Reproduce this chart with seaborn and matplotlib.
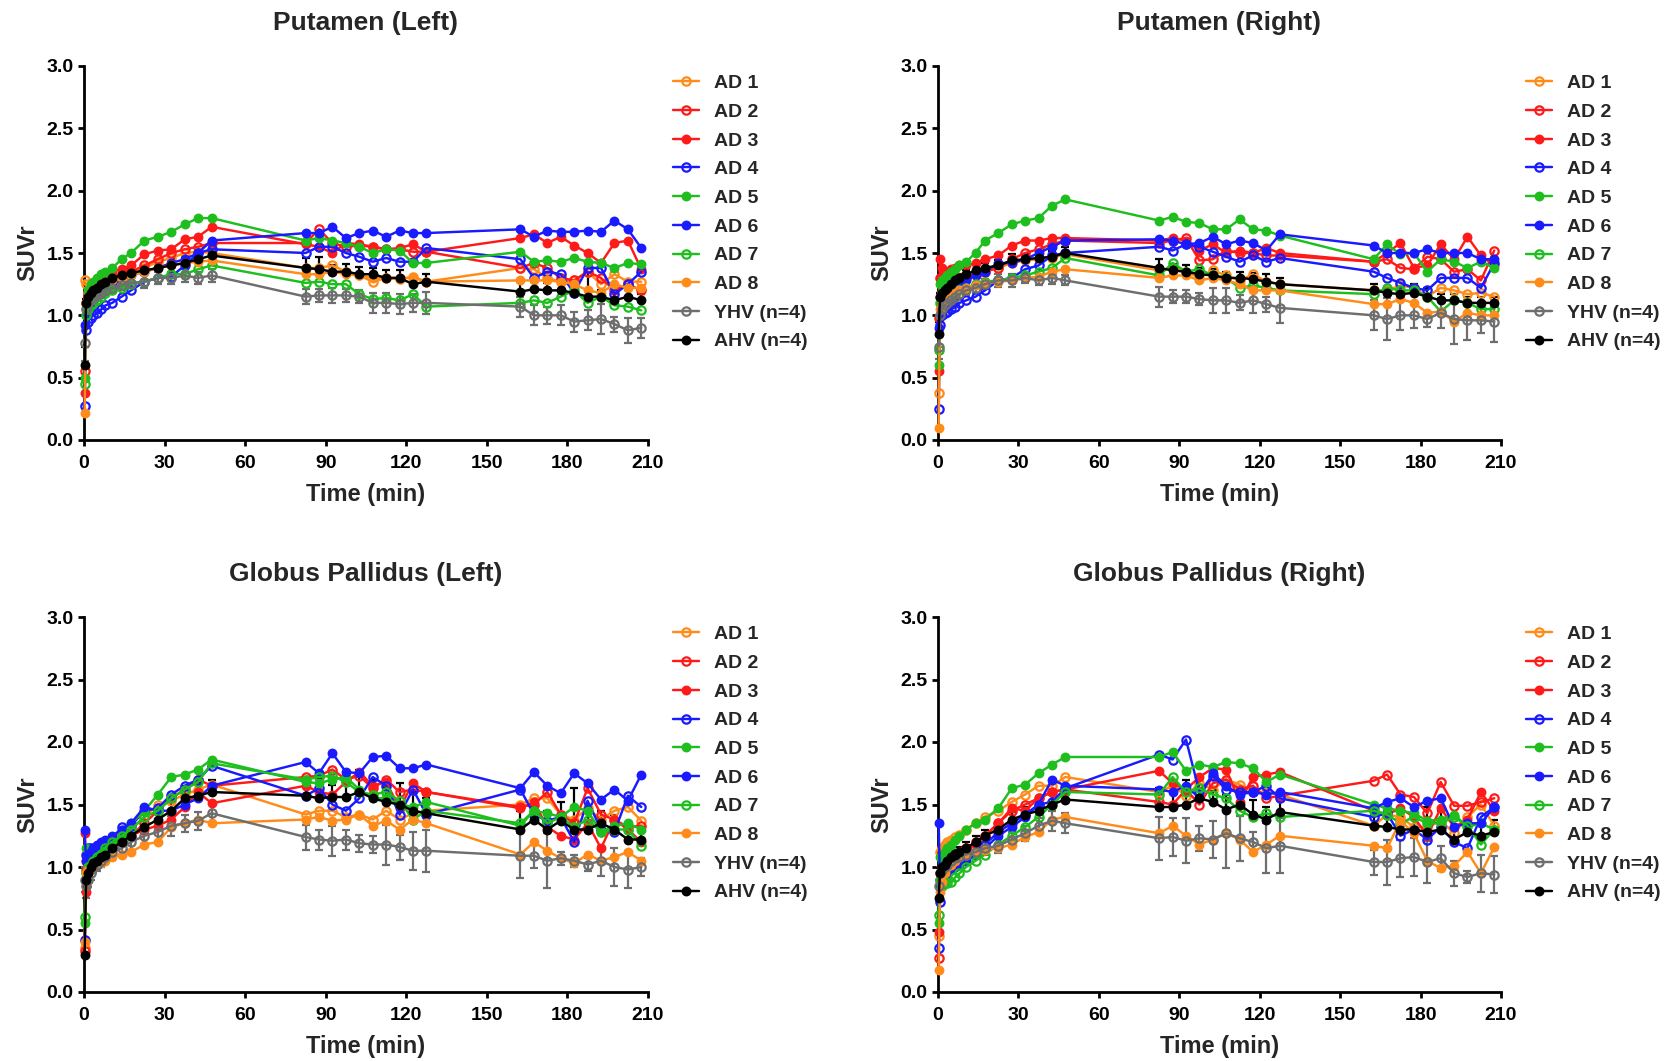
import numpy as np
import matplotlib
matplotlib.use("Agg")
import matplotlib.pyplot as plt
import seaborn as sns

# ---------------- data ----------------
TIME = [0.25, 0.75, 1.5, 2.5, 3.5, 5, 6.5, 8, 10.5, 14, 17.5,
        22.5, 27.5, 32.5, 37.5, 42.5, 47.5,
        82.5, 87.5, 92.5, 97.5, 102.5, 107.5, 112.5, 117.5, 122.5, 127.5,
        162.5, 167.5, 172.5, 177.5, 182.5, 187.5, 192.5, 197.5, 202.5, 207.5]

SERIES = ["AD 1", "AD 2", "AD 3", "AD 4", "AD 5", "AD 6", "AD 7", "AD 8", "YHV (n=4)", "AHV (n=4)"]
TITLES = ["Putamen (Left)", "Putamen (Right)", "Globus Pallidus (Left)", "Globus Pallidus (Right)"]
XTICKS = [0, 30, 60, 90, 120, 150, 180, 210]
YTICKS = [0.0, 0.5, 1.0, 1.5, 2.0, 2.5, 3.0]

# Putamen (Left)
P1_AD1 = [1.28,1.25,1.18,1.15,1.17,1.2,1.22,1.25,1.27,1.3,1.35, 1.38,1.43,1.46,1.5,1.51,1.5, 1.38,1.38,1.4,1.35,1.32,1.27,1.3,1.29,1.31,1.27, 1.38,1.37,1.3,1.27,1.28,1.35,1.25,1.33,1.27,1.27]
P1_AD2 = [0.55,1.1,1.15,1.18,1.2,1.22,1.25,1.27,1.3,1.33,1.35, 1.4,1.45,1.5,1.53,1.55,1.58, 1.58,1.69,1.58,1.55,1.56,1.55,1.53,1.53,1.51,1.51, 1.38,1.42,1.38,1.3,1.28,1.35,1.3,1.2,1.25,1.2]
P1_AD3 = [0.38,1.05,1.12,1.2,1.25,1.28,1.3,1.32,1.35,1.37,1.4, 1.49,1.52,1.53,1.61,1.63,1.71, 1.57,1.55,1.5,1.58,1.57,1.55,1.53,1.54,1.57,1.51, 1.62,1.65,1.58,1.63,1.56,1.5,1.42,1.58,1.6,1.37]
P1_AD4 = [0.27,0.88,0.95,0.98,1.0,1.02,1.05,1.08,1.1,1.15,1.2, 1.27,1.3,1.31,1.4,1.5,1.53, 1.5,1.55,1.55,1.5,1.47,1.43,1.46,1.43,1.43,1.54, 1.45,1.3,1.35,1.33,1.18,1.38,1.38,1.17,1.25,1.35]
P1_AD5 = [0.5,1.1,1.2,1.25,1.27,1.3,1.33,1.35,1.38,1.45,1.5, 1.6,1.63,1.67,1.73,1.78,1.78, 1.6,1.62,1.6,1.58,1.55,1.5,1.53,1.52,1.42,1.42, 1.51,1.43,1.44,1.43,1.46,1.43,1.42,1.38,1.42,1.41]
P1_AD6 = [0.92,1.0,1.05,1.08,1.12,1.15,1.18,1.22,1.25,1.28,1.32, 1.35,1.38,1.42,1.45,1.5,1.6, 1.66,1.66,1.71,1.62,1.66,1.68,1.63,1.68,1.66,1.66, 1.69,1.63,1.68,1.67,1.67,1.68,1.67,1.76,1.69,1.54]
P1_AD7 = [0.45,1.0,1.05,1.08,1.1,1.12,1.15,1.18,1.2,1.22,1.25, 1.27,1.3,1.33,1.33,1.37,1.4, 1.26,1.27,1.25,1.25,1.17,1.13,1.14,1.12,1.17,1.07, 1.1,1.12,1.1,1.15,1.2,1.1,1.15,1.08,1.07,1.04]
P1_AD8 = [0.22,1.1,1.15,1.18,1.2,1.22,1.25,1.27,1.28,1.3,1.32, 1.35,1.38,1.4,1.42,1.43,1.44, 1.33,1.33,1.35,1.33,1.32,1.3,1.3,1.3,1.3,1.27, 1.28,1.28,1.28,1.27,1.25,1.2,1.18,1.25,1.22,1.22]
P1_YHV = [0.78,1.05,1.1,1.12,1.14,1.16,1.18,1.2,1.22,1.24,1.26, 1.27,1.3,1.3,1.32,1.3,1.32, 1.15,1.16,1.16,1.16,1.15,1.1,1.1,1.09,1.1,1.1, 1.07,1.0,1.0,1.0,0.95,0.96,0.97,0.93,0.88,0.9]
P1_AHV = [0.6,1.1,1.15,1.18,1.2,1.22,1.25,1.27,1.3,1.32,1.34, 1.36,1.38,1.4,1.42,1.45,1.48, 1.38,1.37,1.35,1.35,1.33,1.33,1.3,1.3,1.25,1.27, 1.19,1.21,1.2,1.2,1.18,1.15,1.15,1.12,1.15,1.12]
P1_YHV_SD = [0.15,0.05,0.04,0.04,0.04,0.04,0.04,0.04,0.04,0.04,0.04, 0.05,0.05,0.05,0.05,0.05,0.05, 0.06,0.05,0.06,0.05,0.05,0.08,0.08,0.08,0.07,0.09, 0.08,0.08,0.07,0.08,0.08,0.08,0.12,0.06,0.1,0.08]
P1_AHV_SD = [0.15,0.03,0.03,0.03,0.03,0.03,0.03,0.03,0.03,0.03,0.03, 0.04,0.04,0.05,0.05,0.05,0.05, 0.08,0.1,0.05,0.06,0.06,0.05,0.06,0.06,0.05,0.06, 0.08,0.06,0.06,0.06,0.1,0.2,0.05,0.06,0.05,0.05]

# Putamen (Right)
P2_AD1 = [0.38,1.15,1.18,1.2,1.22,1.25,1.27,1.28,1.3,1.33,1.36, 1.38,1.42,1.44,1.45,1.46,1.49, 1.36,1.38,1.35,1.3,1.36,1.32,1.28,1.33,1.27,1.25, 1.2,1.2,1.24,1.22,1.15,1.22,1.2,1.17,1.18,1.15]
P2_AD2 = [0.98,1.3,1.3,1.28,1.27,1.27,1.28,1.3,1.3,1.32,1.35, 1.38,1.45,1.5,1.53,1.57,1.6, 1.58,1.6,1.62,1.44,1.45,1.52,1.5,1.5,1.48,1.48, 1.43,1.45,1.38,1.37,1.47,1.45,1.35,1.37,1.28,1.52]
P2_AD3 = [0.55,1.45,1.38,1.35,1.35,1.37,1.38,1.4,1.4,1.42,1.45, 1.48,1.56,1.6,1.6,1.62,1.62, 1.6,1.62,1.6,1.52,1.57,1.5,1.52,1.5,1.54,1.5, 1.43,1.5,1.58,1.38,1.4,1.57,1.45,1.63,1.48,1.4]
P2_AD4 = [0.25,0.92,1.0,1.02,1.03,1.05,1.07,1.1,1.12,1.15,1.2, 1.28,1.3,1.37,1.4,1.48,1.5, 1.55,1.52,1.57,1.55,1.51,1.47,1.43,1.48,1.43,1.46, 1.35,1.3,1.26,1.22,1.2,1.3,1.3,1.3,1.22,1.42]
P2_AD5 = [0.6,1.25,1.28,1.3,1.32,1.35,1.37,1.4,1.43,1.5,1.6, 1.66,1.73,1.76,1.78,1.88,1.93, 1.76,1.79,1.75,1.74,1.69,1.69,1.77,1.69,1.68,1.64, 1.45,1.57,1.49,1.5,1.35,1.45,1.43,1.38,1.43,1.38]
P2_AD6 = [0.9,1.15,1.15,1.15,1.17,1.2,1.22,1.25,1.28,1.32,1.35, 1.42,1.42,1.45,1.5,1.55,1.6, 1.61,1.6,1.57,1.58,1.63,1.57,1.6,1.58,1.52,1.65, 1.56,1.5,1.5,1.5,1.53,1.5,1.5,1.5,1.45,1.45]
P2_AD7 = [0.72,1.1,1.12,1.14,1.15,1.17,1.18,1.2,1.22,1.25,1.27, 1.28,1.3,1.32,1.35,1.38,1.46, 1.32,1.42,1.35,1.37,1.32,1.3,1.22,1.24,1.22,1.2, 1.17,1.22,1.2,1.2,1.15,1.03,1.12,1.1,1.05,1.05]
P2_AD8 = [0.1,1.05,1.1,1.12,1.14,1.16,1.18,1.2,1.22,1.24,1.26, 1.27,1.28,1.3,1.31,1.35,1.37, 1.3,1.32,1.32,1.28,1.3,1.28,1.25,1.2,1.2,1.2, 1.09,1.09,1.13,1.1,1.02,1.03,0.95,1.02,1.0,1.0]
P2_YHV = [0.75,1.0,1.05,1.08,1.1,1.12,1.15,1.17,1.2,1.22,1.25, 1.28,1.28,1.3,1.28,1.3,1.28, 1.15,1.15,1.15,1.13,1.12,1.12,1.1,1.12,1.09,1.06, 1.0,0.97,1.0,1.0,0.97,1.02,0.97,0.96,0.96,0.95]
P2_AHV = [0.85,1.15,1.18,1.2,1.22,1.25,1.28,1.3,1.33,1.36,1.38, 1.4,1.44,1.45,1.46,1.47,1.5, 1.38,1.36,1.35,1.33,1.32,1.3,1.3,1.29,1.27,1.25, 1.2,1.18,1.17,1.18,1.15,1.12,1.12,1.1,1.1,1.1]
P2_YHV_SD = [0.1,0.04,0.04,0.04,0.04,0.04,0.04,0.04,0.04,0.04,0.04, 0.05,0.05,0.04,0.04,0.05,0.04, 0.08,0.05,0.05,0.05,0.1,0.1,0.06,0.1,0.06,0.12, 0.12,0.17,0.12,0.1,0.06,0.12,0.2,0.16,0.1,0.16]
P2_AHV_SD = [0.1,0.03,0.03,0.03,0.03,0.03,0.03,0.03,0.03,0.04,0.04, 0.04,0.05,0.04,0.04,0.05,0.05, 0.07,0.05,0.05,0.05,0.05,0.05,0.05,0.05,0.06,0.05, 0.05,0.05,0.05,0.07,0.07,0.05,0.05,0.05,0.05,0.05]

# Globus Pallidus (Left)
P3_AD1 = [0.35,1.05,1.08,1.1,1.12,1.15,1.18,1.2,1.22,1.25,1.3, 1.4,1.5,1.53,1.58,1.62,1.66, 1.42,1.45,1.45,1.4,1.42,1.38,1.45,1.38,1.43,1.45, 1.5,1.55,1.55,1.42,1.38,1.47,1.38,1.45,1.48,1.37]
P3_AD2 = [0.33,0.98,1.0,1.02,1.05,1.08,1.1,1.13,1.17,1.2,1.25, 1.35,1.45,1.55,1.62,1.7,1.65, 1.72,1.73,1.78,1.7,1.73,1.63,1.7,1.6,1.62,1.6, 1.48,1.5,1.6,1.42,1.35,1.63,1.42,1.38,1.32,1.33]
P3_AD3 = [1.27,0.8,0.95,1.0,1.02,1.05,1.08,1.12,1.15,1.2,1.25, 1.3,1.33,1.38,1.48,1.6,1.51, 1.65,1.6,1.58,1.68,1.76,1.65,1.68,1.47,1.67,1.6, 1.47,1.52,1.32,1.25,1.22,1.35,1.15,1.38,1.3,1.2]
P3_AD4 = [0.42,1.1,1.15,1.15,1.12,1.15,1.18,1.2,1.22,1.32,1.33, 1.45,1.47,1.58,1.65,1.7,1.81, 1.57,1.63,1.5,1.45,1.55,1.72,1.65,1.42,1.62,1.42, 1.62,1.42,1.37,1.4,1.2,1.53,1.3,1.28,1.57,1.48]
P3_AD5 = [0.55,1.15,1.0,1.02,1.05,1.08,1.12,1.15,1.2,1.25,1.35, 1.45,1.58,1.72,1.74,1.78,1.86, 1.68,1.67,1.7,1.72,1.62,1.55,1.55,1.5,1.48,1.52, 1.33,1.45,1.43,1.4,1.48,1.45,1.28,1.33,1.35,1.3]
P3_AD6 = [1.3,1.05,1.1,1.12,1.15,1.18,1.2,1.22,1.25,1.3,1.35, 1.48,1.45,1.45,1.5,1.55,1.65, 1.84,1.75,1.91,1.76,1.75,1.88,1.89,1.79,1.79,1.82, 1.63,1.76,1.65,1.59,1.75,1.67,1.54,1.62,1.53,1.74]
P3_AD7 = [0.6,0.95,1.0,1.02,1.05,1.08,1.1,1.15,1.2,1.25,1.3, 1.4,1.45,1.55,1.62,1.68,1.83, 1.7,1.72,1.73,1.68,1.6,1.58,1.6,1.53,1.38,1.45, 1.35,1.45,1.35,1.4,1.32,1.38,1.28,1.3,1.3,1.17]
P3_AD8 = [0.4,0.95,0.98,1.0,1.0,1.02,1.03,1.05,1.08,1.1,1.12, 1.18,1.2,1.32,1.35,1.38,1.35, 1.38,1.4,1.37,1.38,1.42,1.33,1.37,1.3,1.38,1.35, 1.1,1.2,1.13,1.07,1.03,1.1,1.05,1.08,1.12,1.05]
P3_YHV = [0.9,0.85,0.9,0.95,1.0,1.02,1.05,1.08,1.12,1.15,1.2, 1.25,1.28,1.33,1.35,1.37,1.43, 1.24,1.22,1.21,1.22,1.19,1.18,1.18,1.16,1.13,1.13, 1.09,1.09,1.05,1.07,1.05,1.02,1.05,1.0,0.98,1.0]
P3_AHV = [0.3,0.9,0.95,1.0,1.03,1.05,1.08,1.1,1.15,1.2,1.25, 1.32,1.38,1.45,1.55,1.57,1.6, 1.57,1.55,1.56,1.56,1.6,1.55,1.52,1.5,1.45,1.43, 1.3,1.38,1.3,1.37,1.3,1.3,1.35,1.3,1.22,1.22]
P3_YHV_SD = [0.1,0.1,0.06,0.05,0.05,0.05,0.05,0.05,0.06,0.06,0.06, 0.07,0.07,0.08,0.07,0.07,0.08, 0.1,0.08,0.12,0.08,0.07,0.07,0.16,0.1,0.15,0.17, 0.18,0.1,0.22,0.05,0.05,0.05,0.12,0.15,0.15,0.07]
P3_AHV_SD = [0.1,0.05,0.05,0.04,0.04,0.04,0.04,0.04,0.05,0.05,0.05, 0.05,0.06,0.07,0.1,0.1,0.1, 0.15,0.16,0.1,0.12,0.18,0.15,0.12,0.17,0.15,0.12, 0.15,0.1,0.15,0.15,0.33,0.18,0.1,0.12,0.1,0.1]

# Globus Pallidus (Right)
P4_AD1 = [0.45,1.12,1.15,1.18,1.2,1.22,1.24,1.26,1.3,1.35,1.4, 1.45,1.52,1.58,1.65,1.65,1.72, 1.6,1.65,1.57,1.67,1.62,1.7,1.66,1.6,1.6,1.58, 1.33,1.42,1.4,1.32,1.32,1.37,1.27,1.4,1.5,1.33]
P4_AD2 = [0.27,0.9,0.95,1.0,1.02,1.05,1.08,1.1,1.15,1.2,1.25, 1.35,1.45,1.5,1.55,1.6,1.62, 1.52,1.5,1.62,1.5,1.67,1.7,1.62,1.65,1.55,1.57, 1.69,1.74,1.58,1.56,1.43,1.68,1.49,1.49,1.52,1.55]
P4_AD3 = [0.48,0.95,1.0,1.0,1.03,1.05,1.08,1.12,1.15,1.18,1.25, 1.35,1.47,1.45,1.55,1.6,1.62, 1.77,1.67,1.62,1.72,1.79,1.78,1.52,1.72,1.74,1.76, 1.45,1.42,1.47,1.4,1.25,1.47,1.32,1.38,1.6,1.45]
P4_AD4 = [0.35,0.72,0.9,0.95,0.97,1.0,1.02,1.05,1.08,1.12,1.18, 1.28,1.35,1.42,1.5,1.52,1.63, 1.9,1.86,2.02,1.6,1.73,1.62,1.6,1.6,1.65,1.55, 1.4,1.43,1.25,1.3,1.22,1.32,1.2,1.15,1.4,1.48]
P4_AD5 = [0.55,1.08,1.1,1.12,1.15,1.18,1.22,1.25,1.3,1.35,1.38, 1.47,1.63,1.66,1.75,1.82,1.88, 1.88,1.92,1.77,1.82,1.8,1.84,1.83,1.79,1.68,1.74, 1.5,1.47,1.45,1.43,1.37,1.38,1.42,1.32,1.35,1.3]
P4_AD6 = [1.35,0.85,0.9,0.92,0.95,0.98,1.0,1.02,1.05,1.1,1.15, 1.25,1.32,1.4,1.5,1.7,1.65, 1.62,1.6,1.65,1.55,1.75,1.65,1.58,1.6,1.58,1.6, 1.47,1.52,1.55,1.48,1.53,1.55,1.32,1.35,1.35,1.48]
P4_AD7 = [0.62,0.9,0.85,0.87,0.87,0.88,0.92,0.95,1.0,1.05,1.1, 1.18,1.25,1.32,1.4,1.5,1.6, 1.58,1.72,1.6,1.63,1.58,1.55,1.45,1.4,1.43,1.4, 1.45,1.42,1.35,1.4,1.35,1.35,1.4,1.33,1.18,1.3]
P4_AD8 = [0.18,0.8,0.88,0.95,1.0,1.02,1.05,1.08,1.1,1.12,1.14, 1.15,1.18,1.24,1.28,1.38,1.4, 1.27,1.33,1.25,1.18,1.22,1.27,1.22,1.12,1.18,1.25, 1.17,1.15,1.37,1.27,1.05,0.99,1.01,1.12,0.95,1.16]
P4_YHV = [0.85,0.95,0.98,1.0,1.02,1.05,1.07,1.08,1.1,1.12,1.15, 1.17,1.22,1.27,1.33,1.37,1.35, 1.23,1.24,1.21,1.23,1.22,1.27,1.23,1.2,1.15,1.17, 1.04,1.04,1.07,1.08,1.04,1.07,0.95,0.92,0.95,0.94]
P4_AHV = [0.75,0.95,1.0,1.02,1.05,1.08,1.1,1.12,1.15,1.2,1.25, 1.3,1.38,1.42,1.45,1.5,1.54, 1.48,1.48,1.5,1.55,1.52,1.46,1.5,1.42,1.38,1.44, 1.33,1.32,1.3,1.3,1.28,1.3,1.22,1.28,1.25,1.28]
P4_YHV_SD = [0.1,0.05,0.05,0.05,0.05,0.05,0.05,0.05,0.05,0.05,0.05, 0.06,0.06,0.06,0.06,0.08,0.08, 0.17,0.15,0.18,0.1,0.15,0.28,0.18,0.08,0.2,0.22, 0.1,0.18,0.15,0.15,0.17,0.1,0.1,0.05,0.15,0.15]
P4_AHV_SD = [0.1,0.04,0.04,0.04,0.04,0.04,0.04,0.04,0.05,0.05,0.05, 0.05,0.06,0.06,0.08,0.1,0.1, 0.15,0.15,0.2,0.15,0.1,0.12,0.12,0.12,0.1,0.1, 0.1,0.08,0.1,0.1,0.2,0.15,0.1,0.1,0.1,0.1]

PANELS = [
    [P1_AD1, P1_AD2, P1_AD3, P1_AD4, P1_AD5, P1_AD6, P1_AD7, P1_AD8, P1_YHV, P1_AHV, P1_YHV_SD, P1_AHV_SD],
    [P2_AD1, P2_AD2, P2_AD3, P2_AD4, P2_AD5, P2_AD6, P2_AD7, P2_AD8, P2_YHV, P2_AHV, P2_YHV_SD, P2_AHV_SD],
    [P3_AD1, P3_AD2, P3_AD3, P3_AD4, P3_AD5, P3_AD6, P3_AD7, P3_AD8, P3_YHV, P3_AHV, P3_YHV_SD, P3_AHV_SD],
    [P4_AD1, P4_AD2, P4_AD3, P4_AD4, P4_AD5, P4_AD6, P4_AD7, P4_AD8, P4_YHV, P4_AHV, P4_YHV_SD, P4_AHV_SD],
]

# ---------------- style ----------------
ORANGE, RED, BLUE, GREEN, GRAY, BLACK = "#FF8C1A", "#FF1A1A", "#1A1AFF", "#1DBE1D", "#6E6E6E", "#000000"
COLORS = [ORANGE, RED, RED, BLUE, GREEN, BLUE, GREEN, ORANGE, GRAY, BLACK]
OPEN = [True, True, False, True, False, False, True, False, True, False]

sns.set_style("ticks")
plt.rcParams["font.family"] = ["Liberation Sans", "DejaVu Sans"]
plt.rcParams["font.weight"] = "bold"
plt.rcParams["axes.labelweight"] = "bold"
plt.rcParams["axes.titleweight"] = "bold"

fig = plt.figure(figsize=(16.74, 10.61), dpi=100)
W, H = 1674, 1061
positions = [
    (84, 66, 648, 440),
    (938, 66, 1501, 440),
    (84, 617, 648, 992),
    (938, 617, 1501, 992),
]

for k, (x0, y0, x1, y1) in enumerate(positions):
    ax = fig.add_axes([x0 / W, 1 - y1 / H, (x1 - x0) / W, (y1 - y0) / H])
    vals = PANELS[k]
    # error bars
    yhv, ahv, yhv_sd, ahv_sd = vals[8], vals[9], vals[10], vals[11]
    ax.errorbar(TIME, yhv, yerr=yhv_sd, fmt="none", ecolor=GRAY, elinewidth=1.6,
                capsize=3.2, capthick=1.6, clip_on=False, zorder=2)
    ax.errorbar(TIME, ahv, yerr=[np.zeros(len(ahv_sd)), ahv_sd], fmt="none", ecolor=BLACK,
                elinewidth=1.6, capsize=3.2, capthick=1.6, clip_on=False, zorder=2)
    for i, name in enumerate(SERIES):
        c = COLORS[i]
        sns.lineplot(x=TIME, y=vals[i], ax=ax, color=c, linewidth=1.75,
                     marker="o", markersize=6 if OPEN[i] else 5.5,
                     markerfacecolor="none" if OPEN[i] else c,
                     markeredgecolor=c, markeredgewidth=1.6,
                     label=name, errorbar=None, clip_on=False, zorder=3)
    ax.set_xlim(0, 210)
    ax.set_ylim(0, 3.0)
    ax.set_xticks(XTICKS)
    ax.set_xticklabels([str(t) for t in XTICKS])
    ax.set_yticks(YTICKS)
    ax.set_yticklabels([f"{t:.1f}" for t in YTICKS])
    for s in ["top", "right"]:
        ax.spines[s].set_visible(False)
    for s in ["left", "bottom"]:
        ax.spines[s].set_linewidth(2.0)
        ax.spines[s].set_color("black")
    ax.tick_params(axis="both", direction="out", length=4.5, width=2.0,
                   labelsize=14, pad=3, colors="black")
    ax.tick_params(axis="x", pad=6.5)
    for lab in ax.get_xticklabels() + ax.get_yticklabels():
        lab.set_fontweight("bold")
    ax.set_xlabel("Time (min)", fontsize=17, fontweight="bold", labelpad=8)
    ax.set_ylabel("SUVr", fontsize=17, fontweight="bold", labelpad=5)
    ax.set_title(TITLES[k], fontsize=19, fontweight="bold", pad=26)
    leg = ax.legend(loc="upper left", bbox_to_anchor=(1.044, 0.977), frameon=False,
                    prop={"size": 14, "weight": "bold"}, handlelength=1.35,
                    handletextpad=0.75, labelspacing=0.57, borderpad=0, borderaxespad=0)

fig.savefig("out.png", dpi=100)
